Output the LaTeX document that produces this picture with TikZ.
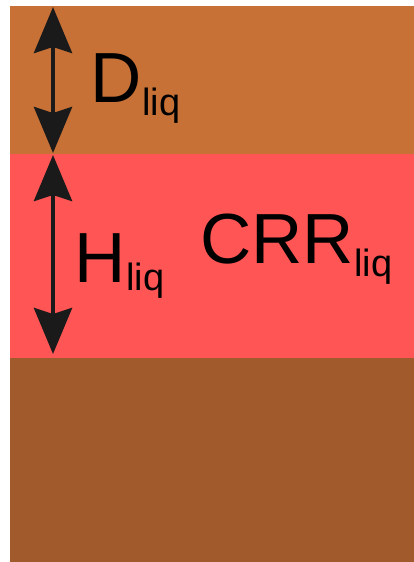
\documentclass[tikz,border=0pt]{standalone}
\usepackage{fontspec}
\setmainfont{Liberation Sans}
\usetikzlibrary{arrows.meta}
\definecolor{topsoil}{HTML}{C87137}
\definecolor{liqlayer}{HTML}{FF5555}
\definecolor{basesoil}{HTML}{A05A2C}
\definecolor{arrowcol}{HTML}{1A1A1A}
\tikzset{
  x=1pt, y=1pt,
  dimarrow/.style={draw=arrowcol, line width=4.5pt,
    {Stealth[length=46pt, width=38pt, inset=6pt]}-{Stealth[length=46pt, width=38pt, inset=6pt]}},
  bigtext/.style={inner sep=0pt, anchor=base west, font=\fontsize{71}{71}\selectfont},
  subtext/.style={inner sep=0pt, anchor=base west, font=\fontsize{38}{38}\selectfont}
}
\begin{document}
\begin{tikzpicture}
\useasboundingbox (0,0) rectangle (414,-562);
\fill[white] (0,0) rectangle (414,-562);
% layers
\fill[topsoil] (10,-6) rectangle (414,-153.5);
\fill[liqlayer] (10,-153.5) rectangle (414,-358);
\fill[basesoil] (10,-358) rectangle (414,-562);
% arrow end points
\coordinate (dtop) at (53,-7);
\coordinate (dbot) at (53,-153);
\coordinate (htop) at (53,-155);
\coordinate (hbot) at (53,-354);
\draw[dimarrow] (dtop) -- (dbot);
\draw[dimarrow] (htop) -- (hbot);
% labels
\node[bigtext] (D) at (90,-102) {D};
\node[subtext] (Dsub) at (142,-115) {liq};
\node[bigtext] (H) at (74,-282) {H};
\node[subtext] (Hsub) at (126,-290) {liq};
\node[bigtext] (CRR) at (200,-263) {CRR};
\node[subtext] (CRRsub) at (354,-276) {liq};
\end{tikzpicture}
\end{document}
